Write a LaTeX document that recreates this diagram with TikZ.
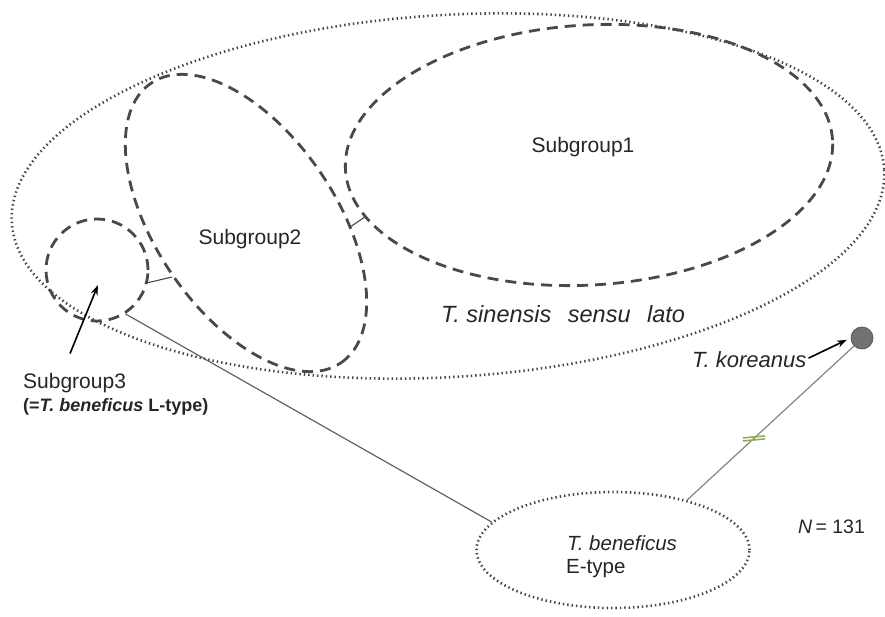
\documentclass[tikz,border=0pt]{standalone}
\usepackage{fontspec}
\setmainfont{Liberation Sans}
\usetikzlibrary{shapes.geometric,arrows.meta}
\definecolor{dashc}{HTML}{4C4846}
\definecolor{dotc}{HTML}{474343}
\definecolor{linkc}{HTML}{6E5E5A}
\definecolor{linkc2}{HTML}{8E807C}
\definecolor{korc}{HTML}{737171}
\definecolor{korb}{HTML}{5A5858}
\definecolor{greenc}{HTML}{8DAE4E}
\begin{document}
\begin{tikzpicture}[x=1pt,y=-1pt,
  dashell/.style={draw=dashc, line width=2.8pt, dash pattern=on 11pt off 7pt, inner sep=0pt},
  dotell/.style={draw=dotc, line width=2.6pt, dash pattern=on 1.4pt off 3pt, inner sep=0pt},
  lbl/.style={font=\fontsize{21}{25}\selectfont, inner sep=0pt, text=black!85},
  sublbl/.style={font=\fontsize{18}{22}\selectfont\bfseries, inner sep=0pt, text=black!85},
  link/.style={draw=linkc, line width=1.2pt},
  link2/.style={draw=linkc2, line width=1.2pt},
  tiny/.style={draw=dashc, line width=1.1pt},
  arr/.style={draw=black, line width=1.6pt, -{Stealth[length=10pt,width=7pt]}},
  gmark/.style={draw=greenc, line width=1.6pt},
]
\useasboundingbox (0,0) rectangle (885,617);

% ellipses
\node[dotell, ellipse, minimum width=874pt, minimum height=362pt, rotate=3.5] (ssl) at (448,196) {};
\node[dashell, ellipse, minimum width=488pt, minimum height=260pt, rotate=3.5] (sg1) at (589,155) {};
\node[dashell, ellipse, minimum width=338pt, minimum height=180pt, rotate=-55.8] (sg2) at (246,223) {};
\node[dashell, circle, minimum size=102pt] (sg3) at (97,270) {};
\node[dotell, ellipse, minimum width=273pt, minimum height=116pt] (ebx) at (613,550) {};
\node[circle, fill=korc, draw=korb, line width=0.8pt, minimum size=22pt, inner sep=0pt] (kor) at (862,338) {};

% connectors
\draw[tiny] (sg3.-14) -- (sg2.-88);
\draw[tiny] (sg2.54) -- (sg1.192);
\draw[link] (sg3.-57) -- (ebx.167);
\draw[link2] (ebx.34) -- (kor.-135) coordinate[pos=0.4] (gm);
\draw[gmark] ([shift={(-11,-0.5)}]gm) -- ([shift={(11,-2.5)}]gm);
\draw[gmark] ([shift={(-11,2.5)}]gm) -- ([shift={(11,0.5)}]gm);

% labels
\node[lbl, anchor=base] (sg1t) at (583,153) {Subgroup1};
\node[lbl, anchor=base] (sg2t) at (250,245) {Subgroup2};
\node[lbl, anchor=base west] (sg3t) at (23,388) {Subgroup3};
\node[sublbl, anchor=base west] (sg3s) at (23,411) {(=\textit{T. beneficus} L-type)};
\node[lbl, anchor=base west, font=\fontsize{23.5}{27}\selectfont] (sslt) at (441,322) {\textit{T. sinensis\hspace{10pt} sensu\hspace{10pt} lato}};
\node[lbl, anchor=base west, font=\fontsize{22}{26}\selectfont] (kort) at (692,367) {\textit{T. koreanus}};
\node[lbl, anchor=base west, font=\fontsize{20.5}{24}\selectfont] (ebt1) at (567,550) {\textit{T. beneficus}};
\node[lbl, anchor=base west, font=\fontsize{20.5}{24}\selectfont] (ebt2) at (566,573) {E-type};
\node[lbl, anchor=base west, font=\fontsize{19.5}{23}\selectfont] (nt) at (798,533) {\textit{N}\,= 131};

% arrows
\coordinate (a3tip) at (98,285);
\draw[arr] ([shift={(47,-19)}]sg3t.north west) -- (a3tip);
\draw[arr, shorten >=4pt] ([xshift=2pt,yshift=1pt]kort.east) -- (kor.west);
\end{tikzpicture}
\end{document}
